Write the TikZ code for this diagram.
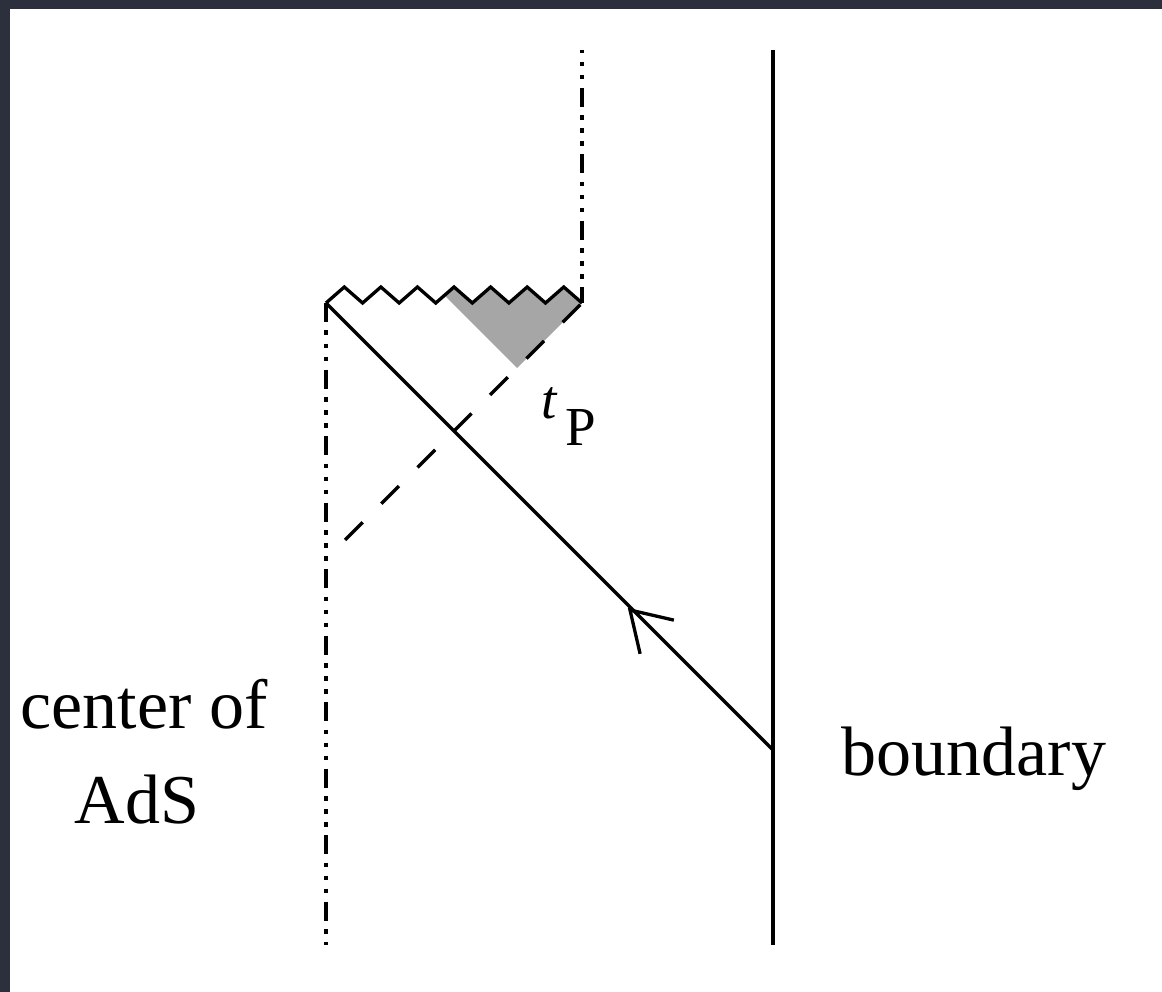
\documentclass[tikz,border=0pt]{standalone}
\usepackage{fontspec}
\setmainfont{Liberation Serif}
\usetikzlibrary{calc}

\definecolor{slate}{RGB}{44,47,60}
\definecolor{wedgegrey}{RGB}{166,166,166}

\begin{document}
\begin{tikzpicture}[
    x=1pt, y=-1pt, % pixel units, y pointing down
    line width=3.3pt,
    dashdots/.style={dash pattern=on 19pt off 8.5pt on 4.5pt off 8.5pt on 4.5pt off 8.5pt on 4.5pt off 8.5pt}, % center of AdS
    ray/.style={dash pattern=on 25pt off 26.3pt}, % light ray
    txt/.style={inner sep=0pt, anchor=base, font=\fontsize{70}{84}\selectfont}
]

% Frame
\useasboundingbox (0,0) rectangle (1162,992);
\fill[slate] (0,0) rectangle (1162,992);
\fill[white] (10,9) rectangle (1162,992);

% Key points
\coordinate (origin) at (326,303);   % left end of the singularity
\coordinate (corner) at (582,303);   % right end of the singularity
\coordinate (centerbot) at (326,945);
\coordinate (uppertop) at (582,50);
\coordinate (bdrytop) at (773,50);
\coordinate (bdrybot) at (773,945);
\coordinate (emit) at (773,750);     % signal leaves the boundary
\coordinate (apex) at (517,368);     % bottom of the grey wedge
\coordinate (rayend) at (345,540);
\def\tooth{18.29} % half width of one tooth

% Grey wedge under the singularity
\begin{scope}
    \clip (origin) \foreach \i in {1,...,7} {-- ++(\tooth,-16) -- ++(\tooth,16)} -- (582,420) -- (326,420) -- cycle;
    \fill[wedgegrey] (apex) -- ++(100,-100) -- ++(-200,0) -- cycle;
\end{scope}

% Singularity
\draw[line join=miter] (origin) \foreach \i in {1,...,7} {-- ++(\tooth,-16) -- ++(\tooth,16)};

% Vertical lines
\draw[dashdots] (origin) -- (centerbot);
\draw[dashdots, dash phase=28.5pt] (uppertop) -- (corner);
\draw (bdrytop) -- (bdrybot);

% Signal and the ray at t_P
\draw (emit) -- (origin);
\draw[ray] (rayend) -- (corner);

% Arrow on the signal
\coordinate (tip) at (630,610);
\draw[line join=miter] (tip) ++(13:45) -- (tip) -- ++(77:45);

% Labels
\node[txt] (centerA) at (144,728) {center of};
\node[txt] (centerB) at (137,823) {AdS};
\node[txt] (bdry) at (974,775) {boundary};
\node[inner sep=0pt, anchor=base west, font=\fontsize{55}{60}\selectfont] (tp) at (540,418) {\textit{t}\hspace{7pt}\raisebox{-27pt}{P}};

\end{tikzpicture}
\end{document}
